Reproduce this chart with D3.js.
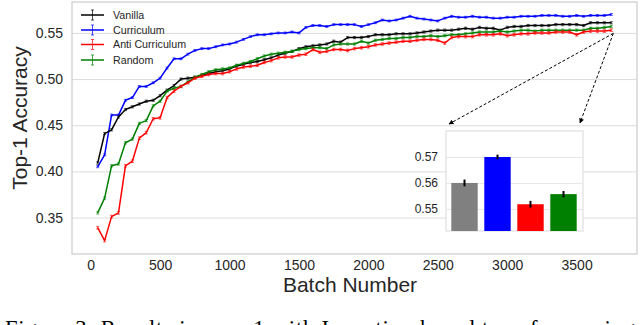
<!DOCTYPE html>
<html>
<head>
<meta charset="utf-8">
<script src="https://cdn.jsdelivr.net/npm/d3@7"></script>
<style>
  html, body { margin: 0; padding: 0; background: #fff; }
  svg { display: block; }
</style>
</head>
<body>
<svg id="chart" width="640" height="325"></svg>
<script>
// ---------------- data ----------------
const batches = [50,100,150,200,250,300,350,400,450,500,550,600,650,700,750,800,850,900,950,1000,
  1050,1100,1150,1200,1250,1300,1350,1400,1450,1500,1550,1600,1650,1700,1750,1800,1850,1900,1950,2000,
  2050,2100,2150,2200,2250,2300,2350,2400,2450,2500,2550,2600,2650,2700,2750,2800,2850,2900,2950,3000,
  3050,3100,3150,3200,3250,3300,3350,3400,3450,3500,3550,3600,3650,3700,3750];

const seriesNames = ["Vanilla", "Curriculum", "Anti Curriculum", "Random"];

const vanilla = [0.409,0.441,0.445,0.459,0.467,0.470,0.473,0.476,0.477,0.482,0.488,0.493,0.500,0.501,0.502,0.504,0.506,0.508,0.509,0.511,
  0.514,0.516,0.518,0.519,0.521,0.523,0.526,0.528,0.530,0.533,0.535,0.536,0.537,0.538,0.541,0.540,0.545,0.545,0.545,0.546,
  0.548,0.548,0.548,0.549,0.549,0.549,0.550,0.551,0.552,0.553,0.553,0.553,0.554,0.555,0.554,0.556,0.555,0.555,0.553,0.556,
  0.557,0.557,0.558,0.558,0.558,0.558,0.559,0.559,0.559,0.559,0.558,0.561,0.561,0.561,0.561];

const curriculum = [0.405,0.418,0.461,0.461,0.477,0.480,0.492,0.492,0.496,0.501,0.512,0.522,0.522,0.527,0.531,0.533,0.533,0.535,0.537,0.538,
  0.540,0.543,0.546,0.548,0.548,0.549,0.550,0.550,0.551,0.550,0.556,0.558,0.558,0.557,0.559,0.559,0.559,0.559,0.557,0.559,
  0.561,0.564,0.563,0.564,0.566,0.568,0.566,0.565,0.564,0.563,0.566,0.568,0.567,0.567,0.568,0.567,0.567,0.566,0.566,0.567,
  0.567,0.568,0.568,0.568,0.569,0.569,0.569,0.568,0.568,0.569,0.568,0.569,0.569,0.569,0.570];

const antiCurriculum = [0.339,0.325,0.351,0.355,0.406,0.411,0.436,0.442,0.457,0.458,0.480,0.487,0.492,0.496,0.501,0.503,0.505,0.506,0.506,0.508,
  0.511,0.513,0.514,0.515,0.518,0.520,0.523,0.524,0.524,0.526,0.527,0.532,0.529,0.530,0.532,0.532,0.531,0.533,0.534,0.535,
  0.537,0.538,0.539,0.540,0.541,0.541,0.542,0.543,0.543,0.542,0.539,0.545,0.546,0.546,0.546,0.548,0.548,0.548,0.549,0.547,
  0.548,0.549,0.549,0.550,0.550,0.550,0.551,0.551,0.551,0.548,0.551,0.552,0.552,0.552,0.553];

const random = [0.355,0.371,0.406,0.408,0.431,0.435,0.452,0.455,0.471,0.476,0.487,0.490,0.492,0.497,0.502,0.505,0.508,0.510,0.511,0.512,
  0.515,0.517,0.519,0.522,0.525,0.527,0.528,0.529,0.530,0.532,0.533,0.534,0.534,0.533,0.537,0.538,0.538,0.538,0.541,0.539,
  0.542,0.543,0.544,0.544,0.545,0.545,0.546,0.546,0.547,0.546,0.547,0.548,0.548,0.549,0.550,0.551,0.551,0.551,0.552,0.551,
  0.552,0.553,0.553,0.552,0.553,0.553,0.553,0.553,0.553,0.553,0.553,0.555,0.555,0.556,0.557];

const seriesErr = [0.0012, 0.0010, 0.0014, 0.0012];
const seriesColors = ["#000000", "#0000ff", "#ff0000", "#008000"];

const yTicks = [0.35, 0.40, 0.45, 0.50, 0.55];
const xTicks = [0, 500, 1000, 1500, 2000, 2500, 3000, 3500];

// inset bar chart
const insetValues = [0.5600, 0.5700, 0.5518, 0.5557];
const insetErr = [0.0013, 0.0009, 0.0013, 0.0012];
const insetColors = ["#808080", "#0000ff", "#ff0000", "#008000"];
const insetTicks = [0.55, 0.56, 0.57];

const captionText = "Figure 3: Results in case 1 with Inception based transfer scoring";

// ---------------- drawing ----------------
const svg = d3.select("#chart");
const FONT = "'Liberation Sans', Arial, sans-serif";
const TXT = "#262626";
const GRID = "#dcdcdc";
const SPINE = "#cccccc";

svg.append("rect").attr("width", 640).attr("height", 325).attr("fill", "#fff");

const L = 72, R = 637, T = 2, B = 254;
const x = d3.scaleLinear().domain([-135, 3935]).range([L, R]);
const y = d3.scaleLinear().domain([0.3105, 0.5835]).range([B, T]);

// y axis w/ gridlines
const gy = svg.append("g").attr("transform", `translate(${L},0)`)
  .call(d3.axisLeft(y).tickValues(yTicks).tickFormat(d3.format(".2f")).tickSize(-(R - L)).tickPadding(9));
gy.select(".domain").remove();
gy.selectAll(".tick line").attr("stroke", GRID).attr("stroke-width", 1);
gy.selectAll(".tick text").attr("fill", TXT).attr("font-family", FONT).attr("font-size", 14);

// x axis (labels only)
const gx = svg.append("g").attr("transform", `translate(0,${B})`)
  .call(d3.axisBottom(x).tickValues(xTicks).tickFormat(d3.format("d")).tickSize(0).tickPadding(6));
gx.select(".domain").remove();
gx.selectAll(".tick text").attr("fill", TXT).attr("font-family", FONT).attr("font-size", 14);

// frame
svg.append("rect").attr("x", L).attr("y", T).attr("width", R - L).attr("height", B - T)
  .attr("fill", "none").attr("stroke", SPINE).attr("stroke-width", 1.2);

// axis labels
svg.append("text").attr("x", 350).attr("y", 292).attr("text-anchor", "middle")
  .attr("font-family", FONT).attr("font-size", 21).attr("fill", TXT).text("Batch Number");
svg.append("text").attr("transform", "translate(27,118) rotate(-90)").attr("text-anchor", "middle")
  .attr("font-family", FONT).attr("font-size", 21).attr("fill", TXT).text("Top-1 Accuracy");

// series
const allSeries = [vanilla, curriculum, antiCurriculum, random];
const line = d3.line().x((d, i) => x(batches[i])).y(d => y(d));
const drawOrder = [1, 0, 3, 2];
drawOrder.forEach(si => {
  const vals = allSeries[si];
  const g = svg.append("g");
  const e = seriesErr[si];
  const c = seriesColors[si];
  g.selectAll("line.eb").data(vals).enter().append("line")
    .attr("x1", (d, i) => x(batches[i])).attr("x2", (d, i) => x(batches[i]))
    .attr("y1", d => y(d - e)).attr("y2", d => y(d + e))
    .attr("stroke", c).attr("stroke-width", 1).attr("opacity", 0.6);
  [-1, 1].forEach(s => {
    g.selectAll(null).data(vals).enter().append("line")
      .attr("x1", (d, i) => x(batches[i]) - 1.6).attr("x2", (d, i) => x(batches[i]) + 1.6)
      .attr("y1", d => y(d + s * e)).attr("y2", d => y(d + s * e))
      .attr("stroke", c).attr("stroke-width", 1).attr("opacity", 0.6);
  });
  g.append("path").datum(vals).attr("d", line).attr("fill", "none")
    .attr("stroke", c).attr("stroke-width", 1.5).attr("stroke-linejoin", "round");
});

// legend
const legRows = [15, 30, 44.5, 60];
seriesNames.forEach((name, i) => {
  const g = svg.append("g");
  const cy = legRows[i];
  g.append("line").attr("x1", 81).attr("x2", 104).attr("y1", cy).attr("y2", cy)
    .attr("stroke", seriesColors[i]).attr("stroke-width", 1.5);
  g.append("line").attr("x1", 92.5).attr("x2", 92.5).attr("y1", cy - 5).attr("y2", cy + 5)
    .attr("stroke", seriesColors[i]).attr("stroke-width", 1).attr("opacity", 0.7);
  [-5, 5].forEach(o => g.append("line").attr("x1", 91).attr("x2", 94).attr("y1", cy + o).attr("y2", cy + o)
    .attr("stroke", seriesColors[i]).attr("stroke-width", 1).attr("opacity", 0.7));
  g.append("text").attr("x", 113).attr("y", cy).attr("dy", "0.35em")
    .attr("font-family", FONT).attr("font-size", 10.7).attr("fill", TXT).text(name);
});

// inset
const IL = 446, IR = 583, IT = 131, IB = 231;
const iy = d3.scaleLinear().domain([0.5415, 0.58]).range([IB, IT]);
const ix = d3.scaleBand().domain(seriesNames).range([IL + 2, IR - 3]).paddingInner(0.2).paddingOuter(0.1);

// arrows (dashed, from end of curves to inset corners)
const defs = svg.append("defs");
defs.append("marker").attr("id", "ah").attr("viewBox", "0 0 10 10").attr("refX", 9).attr("refY", 5)
  .attr("markerWidth", 5).attr("markerHeight", 5).attr("orient", "auto")
  .append("path").attr("d", "M0,0 L10,5 L0,10 z").attr("fill", "#000");
const ax0 = x(batches[batches.length - 1]) + 2, ay0 = y(0.5495);
[[IL + 3, IT - 7], [IR - 3, IT - 8]].forEach(([ex, ey]) => {
  svg.append("line").attr("x1", ax0).attr("y1", ay0).attr("x2", ex).attr("y2", ey)
    .attr("stroke", "#000").attr("stroke-width", 1).attr("stroke-dasharray", "3,2")
    .attr("marker-end", "url(#ah)");
});

svg.append("rect").attr("x", IL).attr("y", IT).attr("width", IR - IL).attr("height", IB - IT)
  .attr("fill", "#fff").attr("stroke", "#e0e0e0").attr("stroke-width", 1.2);

const giy = svg.append("g").attr("transform", `translate(${IL},0)`)
  .call(d3.axisLeft(iy).tickValues(insetTicks).tickFormat(d3.format(".2f")).tickSize(-(IR - IL)).tickPadding(8));
giy.select(".domain").remove();
giy.selectAll(".tick line").attr("stroke", "#e6e6e6").attr("stroke-width", 1);
giy.selectAll(".tick text").attr("fill", TXT).attr("font-family", FONT).attr("font-size", 12);

svg.append("g").selectAll("rect").data(insetValues).enter().append("rect")
  .attr("x", (d, i) => ix(seriesNames[i])).attr("width", ix.bandwidth())
  .attr("y", d => iy(d)).attr("height", d => IB - iy(d))
  .attr("fill", (d, i) => insetColors[i]);

svg.append("g").selectAll("line").data(insetValues).enter().append("line")
  .attr("x1", (d, i) => ix(seriesNames[i]) + ix.bandwidth() / 2)
  .attr("x2", (d, i) => ix(seriesNames[i]) + ix.bandwidth() / 2)
  .attr("y1", (d, i) => iy(d - insetErr[i])).attr("y2", (d, i) => iy(d + insetErr[i]))
  .attr("stroke", "#000").attr("stroke-width", 2);

// caption (cut off at the bottom like the reference)
svg.append("text").attr("x", 5).attr("y", 336)
  .attr("font-family", "'Liberation Serif', 'Times New Roman', serif").attr("font-size", 22.6)
  .attr("fill", "#000").attr("textLength", 630).attr("lengthAdjust", "spacing")
  .text(captionText);
</script>
</body>
</html>
